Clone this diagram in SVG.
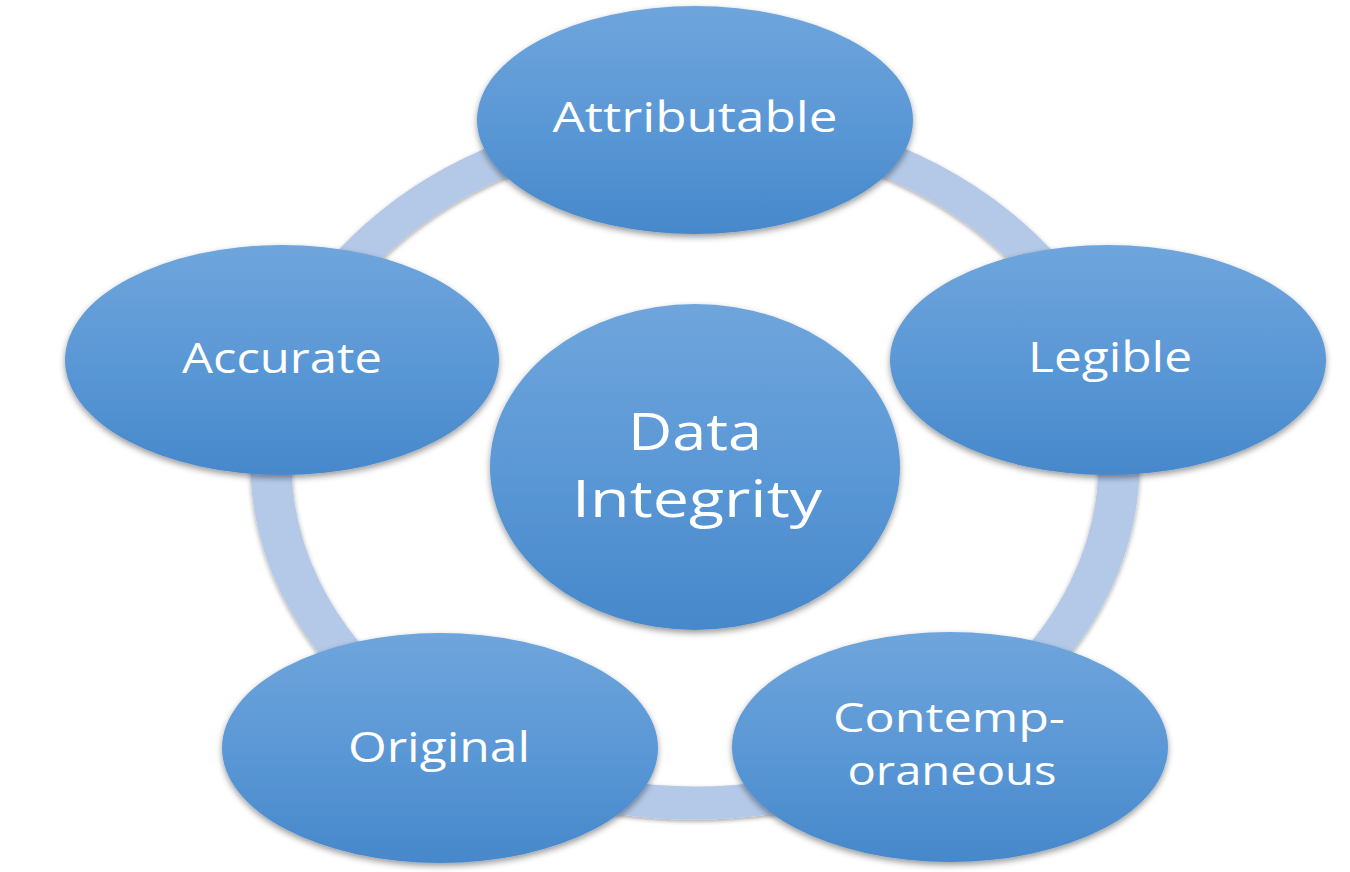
<svg xmlns="http://www.w3.org/2000/svg" width="1350" height="872" viewBox="0 0 1350 872">
  <defs>
    <linearGradient id="gNode" x1="0" y1="0" x2="0" y2="1">
      <stop offset="0" stop-color="#6fa5dc"/>
      <stop offset="0.5" stop-color="#5b98d6"/>
      <stop offset="1" stop-color="#4688cb"/>
    </linearGradient>
    <filter id="shadow" x="-10%" y="-10%" width="120%" height="125%">
      <feDropShadow dx="0" dy="3" stdDeviation="3" flood-color="#000" flood-opacity="0.4"/>
    </filter>
    <filter id="ringShadow" x="-10%" y="-10%" width="120%" height="125%">
      <feDropShadow dx="0" dy="2" stdDeviation="2" flood-color="#000" flood-opacity="0.35"/>
    </filter>
  </defs>
  <style>
    .node { fill: url(#gNode); filter: url(#shadow); }
    .label { font-family: "Open Sans", "Noto Sans", sans-serif; fill: #ffffff; text-anchor: middle; font-size: 42px; }
    .small { font-size: 40px; }
    .big { font-size: 52px; }
    .ring { fill: none; stroke: #b4c9e8; stroke-width: 33; filter: url(#ringShadow); }
  </style>
  <rect width="1350" height="872" fill="#ffffff"/>
  <g id="connectors">
    <circle class="ring" cx="0" cy="0" r="340" transform="translate(695,463) scale(1.247,1)"/>
  </g>
  <g id="node-attributable">
    <ellipse class="node" cx="695" cy="120" rx="218" ry="114"/>
    <text class="label" x="695" y="132" textLength="285" lengthAdjust="spacingAndGlyphs">Attributable</text>
  </g>
  <g id="node-legible">
    <ellipse class="node" cx="1108" cy="360" rx="218" ry="115"/>
    <text class="label" x="1110" y="372" textLength="164" lengthAdjust="spacingAndGlyphs">Legible</text>
  </g>
  <g id="node-contemporaneous">
    <ellipse class="node" cx="950" cy="747" rx="218" ry="115"/>
    <text class="label small" x="949" y="732" textLength="232" lengthAdjust="spacingAndGlyphs">Contemp-</text>
    <text class="label small" x="952" y="785" textLength="209" lengthAdjust="spacingAndGlyphs">oraneous</text>
  </g>
  <g id="node-original">
    <ellipse class="node" cx="440" cy="748" rx="218" ry="115"/>
    <text class="label" x="439" y="762" textLength="182" lengthAdjust="spacingAndGlyphs">Original</text>
  </g>
  <g id="node-accurate">
    <ellipse class="node" cx="282" cy="360" rx="217" ry="115"/>
    <text class="label" x="282" y="373" textLength="200" lengthAdjust="spacingAndGlyphs">Accurate</text>
  </g>
  <g id="node-data-integrity">
    <ellipse class="node" cx="695" cy="467" rx="205" ry="163"/>
    <text class="label big" x="695" y="450" textLength="134" lengthAdjust="spacingAndGlyphs">Data</text>
    <text class="label big" x="697" y="517" textLength="250" lengthAdjust="spacingAndGlyphs">Integrity</text>
  </g>
</svg>
